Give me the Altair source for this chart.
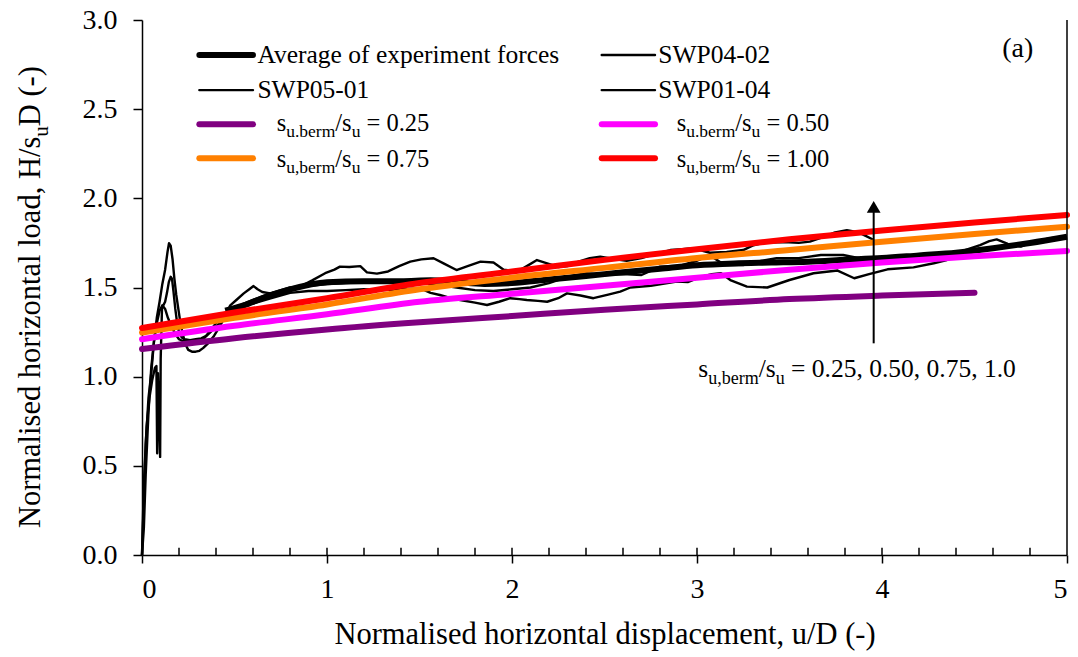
import altair as alt
import pandas as pd

# ---------------- experimental records: u/D vs H/(su D) ----------------
swp04_02_x = [0.0, 0.008, 0.02, 0.035, 0.05, 0.065, 0.08, 0.095, 0.11, 0.125, 0.138, 0.146,
              0.155, 0.165, 0.175, 0.185, 0.195, 0.205, 0.22, 0.235, 0.25, 0.27, 0.29, 0.31,
              0.33, 0.36, 0.39, 0.42, 0.45, 0.477, 0.51, 0.55, 0.58, 0.603, 0.625, 0.65,
              0.693, 0.74, 0.79, 0.855, 0.92, 0.99, 1.04, 1.07, 1.12, 1.18, 1.216, 1.27,
              1.33, 1.39, 1.45, 1.51, 1.576, 1.63, 1.70, 1.76, 1.83, 1.90, 1.955, 2.03,
              2.08, 2.135, 2.19, 2.25, 2.30, 2.36, 2.42, 2.477, 2.55, 2.62, 2.70, 2.78,
              2.856, 2.92, 2.98, 3.07, 3.16, 3.25, 3.30, 3.36, 3.47, 3.55, 3.61, 3.70,
              3.74, 3.81, 3.87, 3.92, 3.94, 3.955]
swp04_02_y = [0.0, 0.25, 0.62, 0.88, 1.02, 1.2, 1.33, 1.42, 1.52, 1.6, 1.70, 1.748,
              1.735, 1.66, 1.55, 1.46, 1.39, 1.32, 1.24, 1.18, 1.15, 1.14, 1.14, 1.145,
              1.16, 1.19, 1.23, 1.28, 1.34, 1.40, 1.43, 1.467, 1.49, 1.508, 1.49, 1.475,
              1.467, 1.475, 1.49, 1.505, 1.54, 1.58, 1.60, 1.617, 1.615, 1.62, 1.585, 1.578,
              1.59, 1.62, 1.645, 1.658, 1.664, 1.635, 1.598, 1.62, 1.645, 1.64, 1.60, 1.59,
              1.62, 1.654, 1.635, 1.615, 1.62, 1.645, 1.664, 1.673, 1.66, 1.65, 1.665, 1.69,
              1.71, 1.715, 1.72, 1.695, 1.70, 1.71, 1.735, 1.75, 1.755, 1.75, 1.757, 1.79,
              1.807, 1.822, 1.81, 1.785, 1.775, 1.765]

swp05_01_x = [0.0, 0.01, 0.025, 0.04, 0.055, 0.07, 0.078, 0.082, 0.086, 0.098, 0.101, 0.108,
              0.115, 0.125, 0.135, 0.145, 0.155, 0.162, 0.17, 0.18, 0.19, 0.2, 0.215, 0.23,
              0.26, 0.29, 0.32, 0.35, 0.38, 0.42, 0.46, 0.5, 0.55, 0.6, 0.65, 0.7,
              0.8, 0.9, 1.0, 1.1, 1.2, 1.3, 1.4, 1.5, 1.6, 1.7, 1.8, 1.9,
              2.0, 2.1, 2.2, 2.3, 2.4, 2.5, 2.6, 2.7, 2.8, 2.9, 3.0, 3.07,
              3.15, 3.25, 3.35, 3.43, 3.55, 3.67, 3.79, 3.9, 4.0, 4.1, 4.2, 4.3]
swp05_01_y = [0.0, 0.4, 0.72, 0.88, 0.98, 1.05, 1.06, 0.57, 1.02, 0.55, 1.1, 1.38,
              1.40, 1.42, 1.47, 1.53, 1.56, 1.55, 1.48, 1.38, 1.30, 1.25, 1.22, 1.21,
              1.205, 1.21, 1.215, 1.23, 1.26, 1.30, 1.35, 1.38, 1.41, 1.43, 1.45, 1.47,
              1.50, 1.51, 1.52, 1.525, 1.53, 1.53, 1.53, 1.525, 1.515, 1.50, 1.485, 1.48,
              1.49, 1.50, 1.525, 1.56, 1.58, 1.57, 1.575, 1.57, 1.617, 1.62, 1.65, 1.68,
              1.626, 1.626, 1.65, 1.664, 1.665, 1.682, 1.682, 1.66, 1.66, 1.665, 1.675, 1.685]

swp01_04_x = [0.0, 0.01, 0.02, 0.035, 0.05, 0.065, 0.08, 0.095, 0.11, 0.125, 0.14, 0.16,
              0.18, 0.2, 0.22, 0.25, 0.28, 0.31, 0.34, 0.37, 0.4, 0.44, 0.48, 0.55,
              0.6, 0.7, 0.8, 0.9, 1.0, 1.1, 1.2, 1.3, 1.4, 1.504, 1.56, 1.61,
              1.67, 1.72, 1.8, 1.865, 1.93, 1.99, 2.04, 2.08, 2.14, 2.19, 2.25, 2.297,
              2.37, 2.44, 2.52, 2.585, 2.64, 2.75, 2.89, 2.95, 3.02, 3.08, 3.13, 3.18,
              3.27, 3.38, 3.5, 3.63, 3.76, 3.85, 3.93, 4.03, 4.17, 4.28, 4.35, 4.42,
              4.53, 4.58, 4.62, 4.68, 4.75, 4.82, 4.91, 5.0]
swp01_04_y = [0.0, 0.15, 0.45, 0.8, 1.05, 1.2, 1.3, 1.37, 1.40, 1.38, 1.33, 1.28,
              1.24, 1.21, 1.2, 1.2, 1.19, 1.2, 1.22, 1.26, 1.3, 1.34, 1.37, 1.40,
              1.41, 1.44, 1.47, 1.48, 1.48, 1.485, 1.49, 1.485, 1.49, 1.495, 1.47, 1.458,
              1.44, 1.43, 1.415, 1.402, 1.42, 1.44, 1.435, 1.43, 1.425, 1.42, 1.44, 1.467,
              1.455, 1.44, 1.46, 1.477, 1.50, 1.51, 1.533, 1.53, 1.56, 1.575, 1.58, 1.542,
              1.505, 1.50, 1.542, 1.58, 1.595, 1.552, 1.575, 1.602, 1.613, 1.636, 1.654, 1.70,
              1.738, 1.76, 1.77, 1.745, 1.729, 1.757, 1.776, 1.785]

avg_x = [0.45, 0.55, 0.65, 0.8, 1.0, 1.2, 1.4, 1.56, 1.7, 1.85, 2.0, 2.2, 2.4,
         2.6, 2.8, 3.0, 3.2, 3.4, 3.6, 3.8, 4.0, 4.2, 4.4, 4.6, 4.8, 5.0]
avg_y = [1.37, 1.40, 1.44, 1.49, 1.53, 1.535, 1.535, 1.54, 1.53, 1.52, 1.525, 1.545, 1.565,
         1.585, 1.605, 1.625, 1.635, 1.64, 1.645, 1.655, 1.665, 1.68, 1.695, 1.72, 1.75, 1.785]

# ---------------- model predictions for berm strength ratios ----------------
model_x = [0.0, 0.5, 1.0, 1.5, 2.0, 2.5, 3.0, 3.5, 4.0, 4.5, 5.0]
ratio_025_y = [1.155, 1.215, 1.265, 1.305, 1.34, 1.375, 1.405, 1.435, 1.455, 1.471]
ratio_050_y = [1.21, 1.285, 1.35, 1.42, 1.465, 1.51, 1.555, 1.60, 1.64, 1.675, 1.705]
ratio_075_y = [1.247, 1.33, 1.405, 1.49, 1.555, 1.61, 1.665, 1.71, 1.757, 1.80, 1.841]
ratio_100_y = [1.273, 1.36, 1.44, 1.525, 1.59, 1.655, 1.715, 1.77, 1.82, 1.865, 1.907]

ratio_names = ["0.25", "0.50", "0.75", "1.00"]
ratio_colors = ["#800080", "#FF00FF", "#FF8000", "#FF0000"]

x_ticks = [0, 1, 2, 3, 4, 5]
x_minor = [0.2, 0.4, 0.6, 0.8, 1.0, 1.2, 1.4, 1.6, 1.8, 2.0, 2.2, 2.4, 2.6, 2.8,
           3.0, 3.2, 3.4, 3.6, 3.8, 4.0, 4.2, 4.4, 4.6, 4.8]
y_ticks = [0.0, 0.5, 1.0, 1.5, 2.0, 2.5, 3.0]

# ---------------- layout ----------------
W, H = 925, 535
XMAX, YMAX = 5.0, 3.0
XU = XMAX / W          # data units per pixel (x)
YU = YMAX / H          # data units per pixel (y)
FONT = "Liberation Serif"

# Times-style advance widths (per 1000 em) for composing subscripted text
ADV = {" ": 250, "s": 389, "u": 500, ".": 250, ",": 250, "b": 500, "e": 444, "r": 333,
       "m": 778, "/": 278, "=": 564, "0": 500, "1": 500, "2": 500, "3": 500, "4": 500,
       "5": 500, "6": 500, "7": 500, "8": 500, "9": 500, "H": 722, "D": 722, "(": 333,
       ")": 333, "-": 333, "N": 722, "o": 500, "a": 444, "l": 278, "i": 278, "d": 500,
       "h": 500, "z": 444, "n": 500, "t": 278}


def adv(s, size):
    return sum(ADV.get(c, 500) for c in s) * size / 1000.0


def rich(parts, x0, y0, size, sub_size, angle=0):
    """Lay out a run of text pieces; pieces flagged True are subscripts."""
    rows, pos = [], 0.0
    for txt, sub in parts:
        fs = sub_size if sub else size
        while txt.startswith(" "):
            pos += adv(" ", fs)
            txt = txt[1:]
        drop = 0.27 * size if sub else 0.0
        if angle == 0:
            rows.append(dict(x=x0 + pos * XU, y=y0 - drop * YU, text=txt, size=fs, angle=0))
        else:
            rows.append(dict(x=x0 + drop * XU, y=y0 + pos * YU, text=txt, size=fs, angle=270))
        pos += adv(txt, fs)
    return rows


# ---------------- tables ----------------
exp_rows = []
for name, xs, ys in [("SWP04-02", swp04_02_x, swp04_02_y),
                     ("SWP05-01", swp05_01_x, swp05_01_y),
                     ("SWP01-04", swp01_04_x, swp01_04_y)]:
    for i, (a, b) in enumerate(zip(xs, ys)):
        exp_rows.append(dict(series=name, idx=i, x=a, y=b))
exp_df = pd.DataFrame(exp_rows)
avg_df = pd.DataFrame(dict(x=avg_x, y=avg_y))

model_rows = []
for name, ys in zip(ratio_names, [ratio_025_y, ratio_050_y, ratio_075_y, ratio_100_y]):
    for a, b in zip(model_x, ys):
        model_rows.append(dict(ratio=name, x=a, y=b))
model_df = pd.DataFrame(model_rows)

# legend keys (line samples)
col1 = (0.31, 0.60)
col2 = (2.485, 2.773)
rows_y = [2.804, 2.607, 2.415, 2.2245]
key_df = pd.DataFrame([
    dict(x=col1[0], x2=col1[1], y=rows_y[0], color="black", width=6),
    dict(x=col2[0], x2=col2[1], y=rows_y[0], color="black", width=2.4),
    dict(x=col1[0], x2=col1[1], y=rows_y[1], color="black", width=2.4),
    dict(x=col2[0], x2=col2[1], y=rows_y[1], color="black", width=2.4),
    dict(x=col1[0], x2=col1[1], y=rows_y[2], color=ratio_colors[0], width=6),
    dict(x=col2[0], x2=col2[1], y=rows_y[2], color=ratio_colors[1], width=6),
    dict(x=col1[0], x2=col1[1], y=rows_y[3], color=ratio_colors[2], width=6),
    dict(x=col2[0], x2=col2[1], y=rows_y[3], color=ratio_colors[3], width=6),
])

text_rows = []
text_rows += rich([("Average of experiment forces", False)], 0.624, 2.761, 25.5, 18)
text_rows += rich([("SWP04-02", False)], 2.791, 2.761, 25.5, 18)
text_rows += rich([("SWP05-01", False)], 0.624, 2.565, 25.5, 18)
text_rows += rich([("SWP01-04", False)], 2.791, 2.565, 25.5, 18)
text_rows += rich([("s", False), ("u.berm", True), ("/s", False), ("u", True), (" = 0.25", False)],
                  0.728, 2.380, 24.5, 17.5)
text_rows += rich([("s", False), ("u.berm", True), ("/s", False), ("u", True), (" = 0.50", False)],
                  2.890, 2.380, 24.5, 17.5)
text_rows += rich([("s", False), ("u,berm", True), ("/s", False), ("u", True), (" = 0.75", False)],
                  0.728, 2.178, 24.5, 17.5)
text_rows += rich([("s", False), ("u,berm", True), ("/s", False), ("u", True), (" = 1.00", False)],
                  2.890, 2.178, 24.5, 17.5)
text_rows += rich([("(a)", False)], 4.650, 2.794, 28, 18)
text_rows += rich([("s", False), ("u,berm", True), ("/s", False), ("u", True),
                   (" = 0.25, 0.50, 0.75, 1.0", False)], 3.007, 1.000, 25.5, 18)
# vertical axis title with subscript
text_rows += rich([("Normalised horizontal load, H/s", False), ("u", True), ("D (-)", False)],
                  -0.551, 0.151, 30.5, 21, angle=270)
text_df = pd.DataFrame(text_rows)

minor_df = pd.DataFrame(dict(x=x_minor, y=[0.0] * len(x_minor), y2=[0.04] * len(x_minor)))
frame_df = pd.DataFrame(dict(x=[5.0], y=[0.0], y2=[3.0]))
arrow_df = pd.DataFrame(dict(x=[3.955], y=[1.187], y2=[1.93]))
head_df = pd.DataFrame(dict(x=[3.955], y=[1.952]))

# ---------------- encodings ----------------
xs = alt.Scale(domain=[0, XMAX], nice=False, zero=False)
ys = alt.Scale(domain=[0, YMAX], nice=False, zero=False)
x_axis = alt.Axis(values=x_ticks, format="d", tickSize=8, labelPadding=12,
                  title="Normalised horizontal displacement, u/D (-)", titlePadding=16,
                  grid=False)
y_axis = alt.Axis(values=y_ticks, format=".1f", tickSize=9, labelPadding=16,
                  title=None, grid=False)
X = alt.X("x:Q", scale=xs, axis=x_axis)
Y = alt.Y("y:Q", scale=ys, axis=y_axis)

exp_layer = alt.Chart(exp_df).mark_line(color="black", strokeWidth=2.4, strokeJoin="round").encode(
    x=X, y=Y, detail="series:N", order="idx:Q")
avg_layer = alt.Chart(avg_df).mark_line(color="black", strokeWidth=6, interpolate="monotone").encode(
    x=X, y=Y)
model_layer = alt.Chart(model_df).mark_line(strokeWidth=6, strokeCap="round",
                                            interpolate="monotone").encode(
    x=X, y=Y,
    color=alt.Color("ratio:N", scale=alt.Scale(domain=ratio_names, range=ratio_colors), legend=None))
key_layer = alt.Chart(key_df).mark_rule(strokeCap="round").encode(
    x=X, x2="x2:Q", y=Y,
    color=alt.Color("color:N", scale=None),
    strokeWidth=alt.StrokeWidth("width:Q", scale=None))
text_layer = alt.Chart(text_df).mark_text(font=FONT, align="left", baseline="alphabetic",
                                          color="black").encode(
    x=X, y=Y, text="text:N",
    size=alt.Size("size:Q", scale=None),
    angle=alt.Angle("angle:Q", scale=None))
minor_layer = alt.Chart(minor_df).mark_rule(color="black", strokeWidth=1.5).encode(
    x=X, y=Y, y2="y2:Q")
frame_layer = alt.Chart(frame_df).mark_rule(color="black", strokeWidth=1.5).encode(
    x=X, y=Y, y2="y2:Q")
arrow_layer = alt.Chart(arrow_df).mark_rule(color="black", strokeWidth=2).encode(
    x=X, y=Y, y2="y2:Q")
head_layer = alt.Chart(head_df).mark_point(shape="triangle-up", filled=True, color="black",
                                           size=190, opacity=1).encode(x=X, y=Y)

chart = alt.layer(
    exp_layer, avg_layer, model_layer, key_layer, minor_layer, frame_layer,
    arrow_layer, head_layer, text_layer
).properties(
    width=W, height=H,
    padding={"left": 142, "top": 20, "right": 11, "bottom": 102},
    autosize=alt.AutoSizeParams(type="none"),
    background="white",
).configure_view(
    strokeWidth=0
).configure_axis(
    domainColor="black", domainWidth=1.5, tickColor="black", tickWidth=1.5,
    labelFont=FONT, labelFontSize=28, labelColor="black",
    titleFont=FONT, titleFontSize=30.5, titleColor="black", titleFontWeight="normal",
)

chart.save("out.html", embed_options={"renderer": "svg", "actions": False})
